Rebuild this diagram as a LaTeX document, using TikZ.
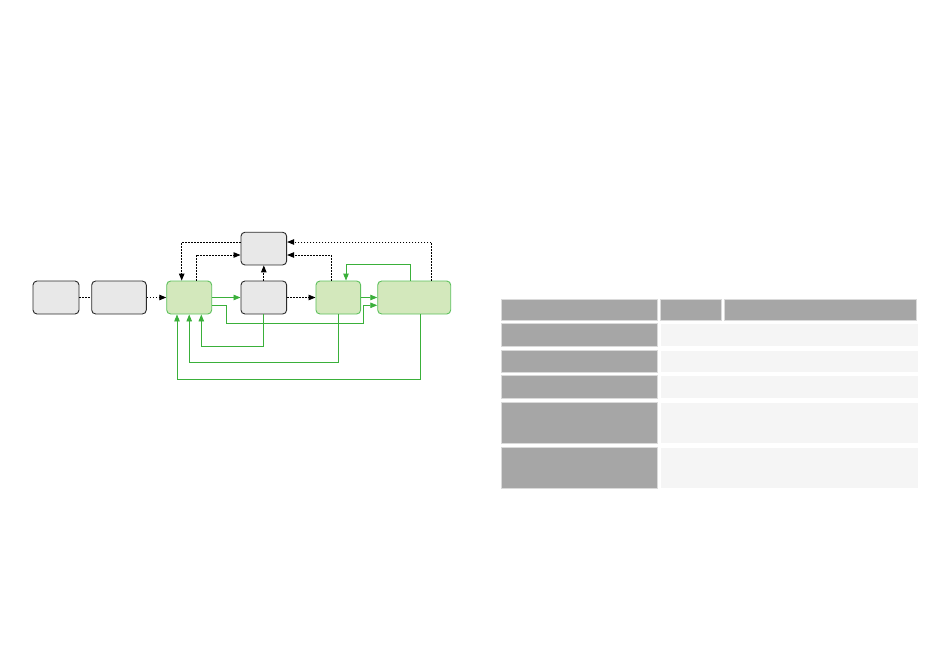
\documentclass[tikz,border=0pt]{standalone}
\usetikzlibrary{arrows.meta}
\definecolor{boxfill}{HTML}{E8E8E8}
\definecolor{boxline}{HTML}{2A2A2A}
\definecolor{gfill}{HTML}{D3E8BC}
\definecolor{gline}{HTML}{5CC05C}
\definecolor{gwire}{HTML}{3AB03A}
\definecolor{thead}{HTML}{A6A6A6}
\definecolor{tcell}{HTML}{F5F5F5}
\definecolor{tedge}{HTML}{DADADA}
\tikzset{
  graybox/.style={draw=boxline, fill=boxfill, line width=0.9pt, rounded corners=4pt, minimum height=33pt, inner sep=0pt},
  greenbox/.style={draw=gline, fill=gfill, line width=0.9pt, rounded corners=4pt, minimum height=33pt, inner sep=0pt},
  dotwire/.style={dash pattern=on 1.4pt off 1.6pt, line width=0.9pt, black},
  dotarrow/.style={dotwire, -{Triangle[length=7pt,width=5.5pt]}},
  gwireline/.style={draw=gwire, line width=0.9pt},
  garrow/.style={gwireline, -{Triangle[length=7pt,width=5.5pt]}, gwire},
  darkcell/.style={fill=thead, draw=tedge, line width=0.8pt},
  lightcell/.style={fill=tcell, draw=white, line width=0.8pt},
}
\begin{document}
\begin{tikzpicture}[x=1pt,y=-1pt]
\useasboundingbox (0,0) rectangle (950,646);
% nodes
\node[graybox, minimum width=46pt] (A) at (56,297.5) {};
\node[graybox, minimum width=54.6pt] (B) at (119,297.5) {};
\node[greenbox, minimum width=45pt] (C) at (189.2,297.5) {};
\node[graybox, minimum width=45.7pt, minimum height=32.7pt] (D) at (263.8,248.6) {};
\node[graybox, minimum width=45.7pt] (E) at (263.8,297.5) {};
\node[greenbox, minimum width=44.7pt] (F) at (338.3,297.5) {};
\node[greenbox, minimum width=73pt] (G) at (414.2,297.5) {};
% dotted connectors
\draw[dotwire] (A.east) -- (B.west);
\draw[dotarrow] (B.east) -- (C.west);
\draw[dotarrow] ([yshift=6.6pt]D.west) -| ([xshift=-7.5pt]C.north);
\draw[dotarrow] ([xshift=6.8pt]C.north) |- ([yshift=-6.4pt]D.west);
\draw[dotarrow] (E.north) -- (D.south);
\draw[dotarrow] (E.east) -- (F.west);
\draw[dotarrow] ([xshift=-7pt]F.north) |- ([yshift=-6.4pt]D.east);
\draw[dotarrow] ([xshift=17.5pt]G.north) |- ([yshift=6.6pt]D.east);
% green connectors
\draw[garrow] (C.east) -- (E.west);
\draw[garrow] (F.east) -- (G.west);
\draw[garrow] ([yshift=-7.8pt]C.east) -- (226.7,305.3) -- (226.7,323.3) -- (363.3,323.3) -- (363.3,305.3) -- ([yshift=-7.8pt]G.west);
\draw[garrow] (E.south) -- (263.8,346) -| ([xshift=12.1pt]C.south);
\draw[garrow] (F.south) -- (338.3,362.3) -| (C.south);
\draw[garrow] ([xshift=6.1pt]G.south) -- (420.3,379.3) -| ([xshift=-12.2pt]C.south);
\draw[garrow] ([xshift=-3.9pt]G.north) -- (410.3,264.3) -| ([xshift=7.7pt]F.north);
% table
\draw[darkcell] (501.3,299.3) rectangle (657,320.3);
\draw[darkcell] (660,299.3) rectangle (721.3,320.3);
\draw[darkcell] (724,299.3) rectangle (916.3,320.3);
\foreach \ya/\yb in {323.7/346.3, 350/372, 375.7/398.3, 402/443.3, 447/488.3}{
  \draw[darkcell] (501.3,\ya) rectangle (657,\yb);
  \draw[lightcell] (660,\ya) rectangle (918.3,\yb);
}
\end{tikzpicture}
\end{document}
